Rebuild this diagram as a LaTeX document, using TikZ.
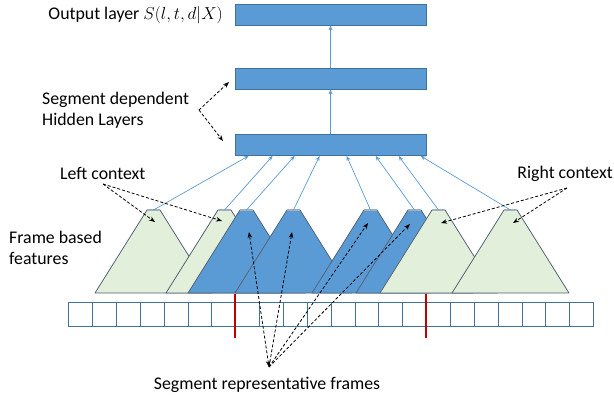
\documentclass[tikz,border=0pt]{standalone}
\usepackage{fontspec}
\setmainfont{Carlito}
\usetikzlibrary{arrows.meta,calc}
\definecolor{bluF}{RGB}{91,155,213}
\definecolor{bluD}{RGB}{65,113,156}
\definecolor{grnF}{RGB}{226,239,218}
\definecolor{trapD}{RGB}{84,100,120}
\definecolor{topE}{RGB}{165,175,188}
\definecolor{redL}{RGB}{192,0,0}
\begin{document}
\begin{tikzpicture}[x=1pt,y=-1pt,
  layerbox/.style={draw=bluD,fill=bluF,line width=0.8pt,minimum width=191pt,minimum height=21pt,inner sep=0pt},
  framebox/.style={draw=bluD,fill=white,line width=0.9pt,minimum width=23.86pt,minimum height=24pt,inner sep=0pt},
  conn/.style={draw=bluF,line width=0.7pt,-{Stealth[length=5pt,width=4pt]}},
  dasharrow/.style={draw=black,line width=0.8pt,dash pattern=on 3pt off 2pt,-{Stealth[length=6pt,width=4.5pt]}},
  lbl/.style={font=\fontsize{17.8}{21.5}\selectfont,inner sep=0pt,anchor=west,align=left},
  redline/.style={draw=redL,line width=2pt}]
\useasboundingbox (0,0) rectangle (614,397);

% layers
\node[layerbox] (out) at (330.5,14.5) {};
\node[layerbox] (h1) at (330.5,78.5) {};
\node[layerbox] (h2) at (330.5,145) {};
\draw[conn] (h2.north) -- (h1.south);
\draw[conn] (h1.north) -- (out.south);

% labels
\node[lbl,anchor=east] (tout) at (223,15) {Output layer {\fontsize{16}{20}\selectfont$S(l,t,d|X)$}};
\node[lbl] (tseg) at (42,110.5) {Segment dependent\\Hidden Layers};
\node[lbl] (tleft) at (60,173) {Left context};
\node[lbl,anchor=east] (tright) at (613,174) {Right context};
\node[lbl] (tframe) at (9,248) {Frame based\\features};
\node[lbl,anchor=center] (trep) at (267,385) {Segment representative frames};

% trapezoids
\foreach \b/\c [count=\i] in {95/grnF,166/grnF,188/bluF,235/bluF,312/bluF,356/bluF,380/grnF,452/grnF} {
  \filldraw[fill=\c,draw=trapD,line width=0.8pt,line join=round] (\b,293) -- ++(52,-83) -- ++(13,0) -- ++(52,83) -- cycle;
  \draw[topE,line width=1.2pt] (\b+52,210) -- (\b+65,210);
  \coordinate (tp\i) at (\b+58.5,210);
}

% connectors to hidden layer
\foreach \i/\o in {1/14,2/38,3/60,4/85,5/112,6/141,7/164,8/186}
  \draw[conn] (tp\i) -- ([xshift=\o pt]h2.south west);

% frames
\foreach \k in {1,...,22}
  \node[framebox] (f\k) at ({68.7+23.86*(\k-0.5)},314) {};
\draw[redline] ([yshift=8pt]f8.north west) -- ([yshift=-12pt]f8.south west);
\draw[redline] ([yshift=8pt]f16.north west) -- ([yshift=-12pt]f16.south west);

% dashed arrows: hidden layers
\coordinate (sd) at (199,110);
\draw[dasharrow] (sd) -- (229,82);
\draw[dasharrow] (sd) -- (223,141);

% left context
\coordinate (lc) at (103,184);
\coordinate (lc1) at (155,222);
\coordinate (lc2) at (222,221);
\draw[dasharrow] (lc) -- (lc1);
\draw[dasharrow] (lc) -- (lc2);

% right context
\coordinate (rc) at (567,188);
\coordinate (rc1) at (441,223);
\coordinate (rc2) at (513,223);
\draw[dasharrow] (rc) -- (rc1);
\draw[dasharrow] (rc) -- (rc2);

% segment representative frames
\coordinate (sr) at (269,367);
\coordinate (sr1) at (249,232);
\coordinate (sr2) at (292,232);
\coordinate (sr3) at (368,223);
\coordinate (sr4) at (410,224);
\draw[dasharrow,{Stealth[length=6pt,width=4.5pt]}-{Stealth[length=6pt,width=4.5pt]}] (sr) -- (sr1);
\draw[dasharrow] (sr) -- (sr2);
\draw[dasharrow] (sr) -- (sr3);
\draw[dasharrow] (sr) -- (sr4);
\end{tikzpicture}
\end{document}
